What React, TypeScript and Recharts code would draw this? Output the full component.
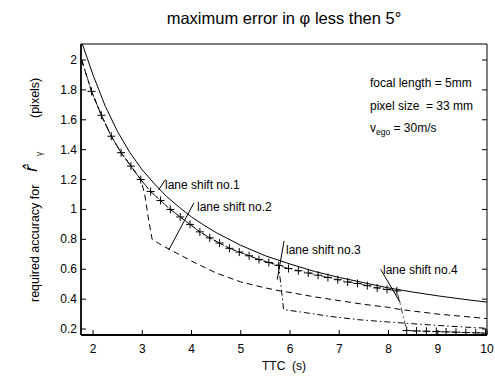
import React from 'react';
import { LineChart, Line, XAxis, YAxis, ReferenceLine } from 'recharts';

const xTicks = [2, 3, 4, 5, 6, 7, 8, 9, 10];
const yTicks = [0.2, 0.4, 0.6, 0.8, 1, 1.2, 1.4, 1.6, 1.8, 2];

// no lane shift (solid)
const noShiftTTC = [1.77, 2.0, 2.25, 2.5, 2.75, 3.0, 3.25, 3.5, 3.75, 4.0, 4.25, 4.5, 5.0, 5.5, 6.0, 6.5, 7.0, 7.5, 8.0, 8.5, 9.0, 9.5, 10];
const noShiftAcc = [2.12, 1.9, 1.69, 1.52, 1.38, 1.265, 1.17, 1.085, 1.015, 0.95, 0.895, 0.845, 0.76, 0.69, 0.635, 0.585, 0.545, 0.51, 0.475, 0.447, 0.422, 0.4, 0.38];

// lane shift no.2 (dashed)
const shift2TTC = [1.77, 1.97, 2.17, 2.37, 2.57, 2.77, 2.97, 3.05, 3.12, 3.2, 3.4, 3.6, 4.0, 4.5, 5.0, 5.5, 5.8, 6.0, 6.5, 7.0, 7.5, 8.0, 8.25, 8.5, 9.0, 9.5, 10];
const shift2Acc = [2.0, 1.79, 1.63, 1.49, 1.38, 1.29, 1.2, 1.1, 0.95, 0.8, 0.76, 0.725, 0.655, 0.575, 0.515, 0.475, 0.455, 0.445, 0.415, 0.39, 0.365, 0.345, 0.33, 0.32, 0.3, 0.285, 0.27];

// lane shift no.3 (dash-dot)
const shift3TTC = [1.77, 1.97, 2.17, 2.37, 2.57, 2.77, 2.97, 3.17, 3.37, 3.57, 3.77, 3.97, 4.17, 4.37, 4.57, 4.77, 4.97, 5.17, 5.37, 5.57, 5.77, 5.87, 6.3, 6.8, 7.4, 8.0, 8.5, 9.0, 9.5, 10];
const shift3Acc = [2.0, 1.79, 1.63, 1.49, 1.38, 1.29, 1.2, 1.12, 1.06, 1.0, 0.95, 0.9, 0.85, 0.81, 0.775, 0.74, 0.715, 0.69, 0.665, 0.645, 0.625, 0.33, 0.31, 0.285, 0.262, 0.247, 0.235, 0.224, 0.214, 0.205];

// lane shift no.4 (crosses)
const shift4TTC = [1.97, 2.17, 2.37, 2.57, 2.77, 2.97, 3.17, 3.37, 3.57, 3.77, 3.97, 4.17, 4.37, 4.57, 4.77, 4.97, 5.17, 5.37, 5.57, 5.77, 5.97, 6.17, 6.37, 6.57, 6.77, 6.97, 7.17, 7.37, 7.57, 7.77, 7.97, 8.17, 8.37, 8.57, 8.77, 8.97, 9.17, 9.37, 9.57, 9.77, 9.97];
const shift4Acc = [1.79, 1.63, 1.49, 1.38, 1.29, 1.2, 1.12, 1.06, 1.0, 0.95, 0.9, 0.85, 0.81, 0.775, 0.74, 0.715, 0.69, 0.665, 0.645, 0.625, 0.605, 0.59, 0.575, 0.56, 0.545, 0.53, 0.515, 0.505, 0.49, 0.475, 0.465, 0.455, 0.19, 0.187, 0.185, 0.183, 0.181, 0.179, 0.177, 0.175, 0.173];

// pointer lines from the labels to the curves
const pointer1 = [{ x: 3.33, y: 1.13 }, { x: 3.47, y: 1.2 }];
const pointer2 = [{ x: 4.05, y: 1.045 }, { x: 3.54, y: 0.73 }];
const pointer3 = [{ x: 5.88, y: 0.79 }, { x: 5.74, y: 0.53 }];
const pointer4 = [{ x: 7.84, y: 0.6 }, { x: 8.24, y: 0.376 }];

const zip = (xs: number[], ys: number[]) => xs.map((x, i) => ({ ttc: x, acc: ys[i] }));

const FONT = '"Liberation Sans", Arial, sans-serif';

const Cross = (props: any) => {
    const { cx, cy, index } = props;
    if (cx == null || cy == null) return <g key={index} />;
    return (
        <path
            key={index}
            d={`M${cx - 4},${cy}H${cx + 4}M${cx},${cy - 4}V${cy + 4}`}
            stroke="#000"
            strokeWidth={1}
            fill="none"
        />
    );
};

const BottomTick = (props: any) => {
    const { x, y, payload } = props;
    return (
        <g>
            <line x1={x} y1={y} x2={x} y2={y - 5} stroke="#000" />
            <text x={x} y={y + 18} textAnchor="middle" fontSize={12} fontFamily={FONT} fill="#000">
                {payload.value}
            </text>
        </g>
    );
};

const TopTick = (props: any) => {
    const { x, y } = props;
    return <line x1={x} y1={y} x2={x} y2={y + 5} stroke="#000" />;
};

const LeftTick = (props: any) => {
    const { x, y, payload } = props;
    return (
        <g>
            <line x1={x} y1={y} x2={x + 5} y2={y} stroke="#000" />
            <text x={x - 4} y={y + 4} textAnchor="end" fontSize={12} fontFamily={FONT} fill="#000">
                {payload.value}
            </text>
        </g>
    );
};

const RightTick = (props: any) => {
    const { x, y } = props;
    return <line x1={x} y1={y} x2={x - 5} y2={y} stroke="#000" />;
};

export default function App() {
    return (
        <div style={{ position: 'absolute', left: 0, top: 0, width: 495, height: 379, background: '#fff' }}>
            <LineChart width={495} height={379} margin={{ top: 0, right: 0, bottom: 0, left: 0 }}>
                <XAxis
                    dataKey="ttc"
                    type="number"
                    domain={[1.756, 10]}
                    ticks={xTicks}
                    interval={0}
                    allowDataOverflow
                    height={44}
                    tickSize={0}
                    tickMargin={0}
                    tickLine={false}
                    axisLine={{ stroke: '#000', strokeWidth: 1.8 }}
                    tick={<BottomTick />}
                />
                <XAxis
                    xAxisId="top"
                    orientation="top"
                    type="number"
                    domain={[1.756, 10]}
                    ticks={xTicks}
                    interval={0}
                    allowDataOverflow
                    height={44}
                    tickSize={0}
                    tickMargin={0}
                    tickLine={false}
                    axisLine={{ stroke: '#000' }}
                    tick={<TopTick />}
                />
                <YAxis
                    dataKey="acc"
                    type="number"
                    domain={[0.16, 2.107]}
                    ticks={yTicks}
                    interval={0}
                    allowDataOverflow
                    width={81}
                    tickSize={0}
                    tickMargin={0}
                    tickLine={false}
                    axisLine={{ stroke: '#000', strokeWidth: 1.8 }}
                    tick={<LeftTick />}
                />
                <YAxis
                    yAxisId="right"
                    orientation="right"
                    type="number"
                    domain={[0.16, 2.107]}
                    ticks={yTicks}
                    interval={0}
                    allowDataOverflow
                    width={8}
                    tickSize={0}
                    tickMargin={0}
                    tickLine={false}
                    axisLine={{ stroke: '#000' }}
                    tick={<RightTick />}
                />
                <Line
                    data={zip(noShiftTTC, noShiftAcc)}
                    dataKey="acc"
                    type="linear"
                    stroke="#000"
                    strokeWidth={1}
                    dot={false}
                    isAnimationActive={false}
                />
                <Line
                    data={zip(shift2TTC, shift2Acc)}
                    dataKey="acc"
                    type="linear"
                    stroke="#000"
                    strokeWidth={1}
                    strokeDasharray="6 4"
                    dot={false}
                    isAnimationActive={false}
                />
                <Line
                    data={zip(shift3TTC, shift3Acc)}
                    dataKey="acc"
                    type="linear"
                    stroke="#000"
                    strokeWidth={1}
                    strokeDasharray="6 3 1.5 3"
                    dot={false}
                    isAnimationActive={false}
                />
                <Line
                    data={zip(shift4TTC, shift4Acc)}
                    dataKey="acc"
                    type="linear"
                    stroke="#000"
                    strokeWidth={0.8}
                    strokeDasharray="6 3 1.5 3"
                    dot={<Cross />}
                    isAnimationActive={false}
                />
                <ReferenceLine segment={pointer1} stroke="#000" strokeWidth={1} />
                <ReferenceLine segment={pointer2} stroke="#000" strokeWidth={1} />
                <ReferenceLine segment={pointer3} stroke="#000" strokeWidth={1} />
                <ReferenceLine segment={pointer4} stroke="#000" strokeWidth={1} />
            </LineChart>
            <svg
                width={495}
                height={379}
                style={{ position: 'absolute', left: 0, top: 0, pointerEvents: 'none' }}
                fontFamily={FONT}
            >
                <text x={284} y={24} textAnchor="middle" fontSize={16.5} fill="#000">
                    maximum error in φ less then 5°
                </text>
                <text x={284} y={370} textAnchor="middle" fontSize={12} fill="#000" xmlSpace="preserve">
                    TTC  (s)
                </text>
                <text transform="translate(39,302) rotate(-90)" fontSize={12.5} fill="#000">
                    <tspan x={0}>required accuracy for</tspan>
                    <tspan x={130} dy={-2} fontSize={17} fontStyle="italic" fontFamily="DejaVu Sans">r̂</tspan>
                    <tspan x={146} dy={5} fontSize={8.5}>γ</tspan>
                    <tspan x={184} dy={-3}>(pixels)</tspan>
                </text>
                <g fontSize={12} fill="#000">
                    <text x={370} y={87}>focal length = 5mm</text>
                    <text x={370} y={110} xmlSpace="preserve">pixel size  = 33 mm</text>
                    <text x={370} y={132}>
                        v<tspan dy={3} fontSize={8.5}>ego</tspan>
                        <tspan dy={-3}> = 30m/s</tspan>
                    </text>
                </g>
                <g fontSize={12} fill="#000">
                    <text x={165} y={189}>lane shift no.1</text>
                    <text x={197} y={211}>lane shift no.2</text>
                    <text x={286} y={254}>lane shift no.3</text>
                    <text x={383} y={274}>lane shift no.4</text>
                </g>
            </svg>
        </div>
    );
}
